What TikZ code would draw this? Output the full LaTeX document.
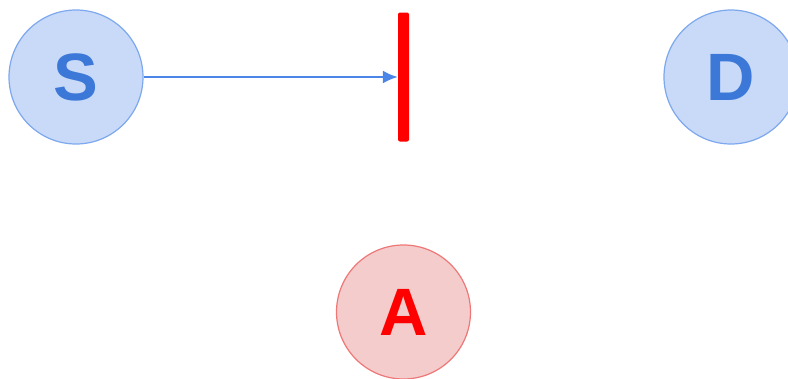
\documentclass[tikz,border=0pt]{standalone}
\usepackage{fontspec}
\setmainfont{Liberation Sans}
\usepackage{tikz}
\usetikzlibrary{arrows.meta,positioning}
\definecolor{hostfill}{HTML}{C9DAF8}
\definecolor{hostline}{HTML}{7DA8EE}
\definecolor{hosttext}{HTML}{3C78D8}
\definecolor{atkfill}{HTML}{F4CCCC}
\definecolor{atkline}{HTML}{EE7777}
\definecolor{jamred}{HTML}{FF0000}
\definecolor{linkblue}{HTML}{4A86E8}
\tikzset{
  hostnode/.style={circle,draw=hostline,fill=hostfill,line width=1.2pt,
    minimum size=134pt,inner sep=0pt,text=hosttext,
    font=\fontsize{67}{67}\selectfont\bfseries},
  attacknode/.style={hostnode,draw=atkline,fill=atkfill,text=jamred},
  jambar/.style={draw=none,fill=jamred,rounded corners=2pt,
    minimum width=11pt,minimum height=129pt,inner sep=0pt},
  signal/.style={-{Latex[length=15pt,width=13pt]},line width=2pt,draw=linkblue}
}
\begin{document}
\begin{tikzpicture}[x=1pt,y=-1pt]
\path[use as bounding box] (0,0) rectangle (788,378);
\begin{scope}
\clip (0,0) rectangle (788,378);
\node[hostnode] (src) at (76,77) {S};
\node[hostnode] (dst) at (731,77) {D};
\node[attacknode] (atk) at (403.5,312) {A};
\node[jambar] (jam) at (403.5,77) {};
\draw[signal] (src) -- (jam.west);
\end{scope}
\end{tikzpicture}
\end{document}
